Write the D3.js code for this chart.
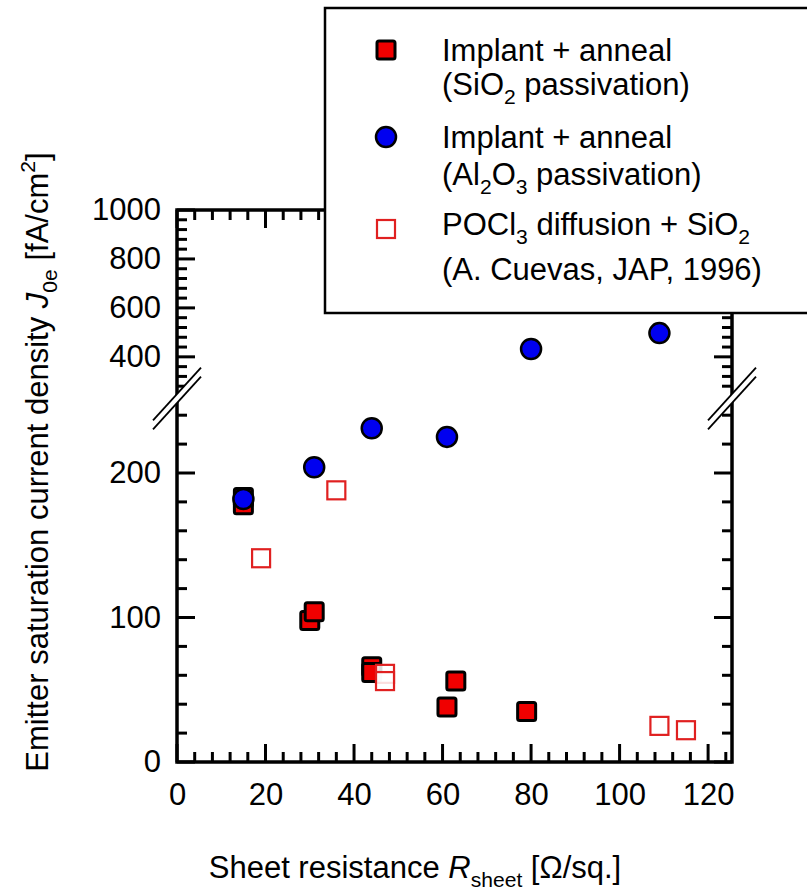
<!DOCTYPE html>
<html>
<head>
<meta charset="utf-8">
<script src="https://cdn.jsdelivr.net/npm/d3@7"></script>
<style>
  body { margin: 0; background: #fff; }
  svg text { font-family: "Liberation Sans", Arial, sans-serif; fill: #000; }
</style>
</head>
<body>
<div id="chart"></div>
<script>
// data (x = sheet resistance, y = J0e)
const sio2X = [15, 15, 30, 31, 44, 44, 63, 61, 79];
const sio2Y = [183, 178, 98, 104, 66, 62, 56, 38, 35];
const al2o3X = [15, 31, 44, 61, 80, 109];
const al2o3Y = [182, 204, 231, 225, 432, 497];
const poclX = [19, 36, 47, 47, 109, 115];
const poclY = [141, 188, 61, 56, 25, 22];

const xMajor = [0, 20, 40, 60, 80, 100, 120];
const yLowMajor = [0, 100, 200];
const yHighMajor = [400, 600, 800, 1000];

const legendItems = [
  { kind: "filled", l1: "Implant + anneal", l2: [["(SiO", ""], ["2", "sub"], [" passivation)", ""]] },
  { kind: "circle", l1: "Implant + anneal", l2: [["(Al", ""], ["2", "sub"], ["O", ""], ["3", "sub"], [" passivation)", ""]] },
  { kind: "open", l1: [["POCl", ""], ["3", "sub"], [" diffusion + SiO", ""], ["2", "sub"]], l2: "(A. Cuevas, JAP, 1996)" }
];

const W = 807, H = 890;
const pLeft = 177, pRight = 732, pTop = 210, pBottom = 762, breakY = 398;
const fs = 31, majLen = 18, minLen = 10;

const svg = d3.select("#chart").append("svg").attr("width", W).attr("height", H);

const x = d3.scaleLinear().domain([0, 125.4]).range([pLeft, pRight]);
const yLow = d3.scaleLinear().domain([0, 250]).range([pBottom, pBottom - 250 * 1.445]);
const yHigh = d3.scaleLinear().domain([240, 1000]).range([396, pTop]);
const yPos = v => v > 250 ? yHigh(v) : yLow(v);

// tick marks, all pointing into the plot
const xMinor = d3.range(0, 125, 4);
const yLowMinor = d3.range(0, 260, 20).filter(v => yLow(v) > breakY + 4);
const yHighMinor = d3.range(280, 1001, 40);

const tickSpecs = [];
xMinor.forEach(v => {
  const len = xMajor.includes(v) ? majLen : minLen;
  tickSpecs.push([x(v), pBottom, x(v), pBottom - len]);
  tickSpecs.push([x(v), pTop, x(v), pTop + len]);
});
[[yLowMinor, yLowMajor, yLow], [yHighMinor, yHighMajor, yHigh]].forEach(([minor, major, sc]) => {
  d3.union(minor, major).forEach(v => {
    const len = major.includes(v) ? majLen : minLen;
    tickSpecs.push([pLeft, sc(v), pLeft + len, sc(v)]);
    tickSpecs.push([pRight, sc(v), pRight - len, sc(v)]);
  });
});
svg.append("g").selectAll("line").data(tickSpecs).join("line")
  .attr("x1", d => d[0]).attr("y1", d => d[1]).attr("x2", d => d[2]).attr("y2", d => d[3])
  .attr("stroke", "#000").attr("stroke-width", 3);

// tick labels through d3 axes (lines hidden, drawn above)
function labelAxis(g) {
  g.select(".domain").remove();
  g.selectAll(".tick line").remove();
  g.selectAll(".tick text").attr("font-size", fs).attr("fill", "#000")
    .attr("font-family", "Liberation Sans, Arial, sans-serif");
}
svg.append("g").attr("transform", `translate(0,${pBottom})`)
  .call(d3.axisBottom(x).tickValues(xMajor).tickSizeInner(0).tickPadding(21)).call(labelAxis);
svg.append("g").attr("transform", `translate(${pLeft},0)`)
  .call(d3.axisLeft(yLow).tickValues(yLowMajor).tickSizeInner(0).tickPadding(16).tickFormat(d3.format("d"))).call(labelAxis);
svg.append("g").attr("transform", `translate(${pLeft},0)`)
  .call(d3.axisLeft(yHigh).tickValues(yHighMajor).tickSizeInner(0).tickPadding(16).tickFormat(d3.format("d"))).call(labelAxis);

// frame
svg.append("rect").attr("x", pLeft).attr("y", pTop).attr("width", pRight - pLeft).attr("height", pBottom - pTop)
  .attr("fill", "none").attr("stroke", "#000").attr("stroke-width", 3.5);

// break marks
[pLeft, pRight].forEach(px => {
  const dx = 24, k = 1.1, gap = 9;
  svg.append("polygon")
    .attr("points", [[px - dx, breakY - 4 + dx * k], [px + dx, breakY - 4 - dx * k],
                     [px + dx, breakY + gap - 4 - dx * k], [px - dx, breakY + gap - 4 + dx * k]].join(" "))
    .attr("fill", "#fff");
  [0, gap].forEach(o => {
    svg.append("line")
      .attr("x1", px - dx).attr("y1", breakY - 4 + o + dx * k)
      .attr("x2", px + dx).attr("y2", breakY - 4 + o - dx * k)
      .attr("stroke", "#000").attr("stroke-width", 1.8);
  });
});

// data
const sq = 18;
svg.append("g").selectAll("rect")
  .data(d3.zip(sio2X, sio2Y)).join("rect")
  .attr("x", d => x(d[0]) - sq / 2).attr("y", d => yPos(d[1]) - sq / 2)
  .attr("width", sq).attr("height", sq).attr("rx", 2)
  .attr("fill", "#f00000").attr("stroke", "#000").attr("stroke-width", 3);

svg.append("g").selectAll("circle")
  .data(d3.zip(al2o3X, al2o3Y)).join("circle")
  .attr("cx", d => x(d[0])).attr("cy", d => yPos(d[1])).attr("r", 10)
  .attr("fill", "#0000f0").attr("stroke", "#000").attr("stroke-width", 2.5);

svg.append("g").selectAll("rect")
  .data(d3.zip(poclX, poclY)).join("rect")
  .attr("x", d => x(d[0]) - sq / 2).attr("y", d => yPos(d[1]) - sq / 2)
  .attr("width", sq).attr("height", sq)
  .attr("fill", "#fff").attr("fill-opacity", 0.85).attr("stroke", "#e02020").attr("stroke-width", 2.2);

// legend
const lg = svg.append("g");
lg.append("rect").attr("x", 325).attr("y", 8).attr("width", 500).attr("height", 305)
  .attr("fill", "#fff").attr("stroke", "#000").attr("stroke-width", 2.5);

function addText(g, tx, ty, parts) {
  const t = g.append("text").attr("x", tx).attr("y", ty).attr("font-size", fs);
  if (typeof parts === "string") { t.text(parts); return t; }
  let shift = 0;
  parts.forEach(([s, k]) => {
    const sp = t.append("tspan").text(s);
    if (k === "sub") { sp.attr("font-size", fs * 0.68).attr("dy", 9 - shift); shift = 9; }
    else { if (shift) sp.attr("dy", -shift); shift = 0; }
  });
  return t;
}

const rowY = [50, 137, 229];
const lineY = [[61, 95], [148, 185], [235, 280]];
legendItems.forEach((it, i) => {
  const cx = 386, cy = rowY[i];
  if (it.kind === "filled") {
    lg.append("rect").attr("x", cx - 9).attr("y", cy - 9).attr("width", 18).attr("height", 18).attr("rx", 2)
      .attr("fill", "#f00000").attr("stroke", "#000").attr("stroke-width", 3);
  } else if (it.kind === "circle") {
    lg.append("circle").attr("cx", cx).attr("cy", cy).attr("r", 10)
      .attr("fill", "#0000f0").attr("stroke", "#000").attr("stroke-width", 2.5);
  } else {
    lg.append("rect").attr("x", cx - 9).attr("y", cy - 9).attr("width", 18).attr("height", 18)
      .attr("fill", "none").attr("stroke", "#e02020").attr("stroke-width", 2.2);
  }
  addText(lg, 442, lineY[i][0], it.l1);
  addText(lg, 442, lineY[i][1], it.l2);
});

// axis titles
const xt = svg.append("text").attr("x", 415).attr("y", 878).attr("text-anchor", "middle").attr("font-size", fs);
xt.append("tspan").text("Sheet resistance ");
xt.append("tspan").attr("font-style", "italic").text("R");
xt.append("tspan").attr("font-size", fs * 0.68).attr("dy", 9).text("sheet");
xt.append("tspan").attr("dy", -9).text(" [\u03A9/sq.]");

const yt = svg.append("text").attr("transform", "translate(48,462) rotate(-90)")
  .attr("text-anchor", "middle").attr("font-size", fs);
yt.append("tspan").text("Emitter saturation current density ");
yt.append("tspan").attr("font-style", "italic").text("J");
yt.append("tspan").attr("font-size", fs * 0.68).attr("dy", 9).text("0e");
yt.append("tspan").attr("dy", -9).text(" [fA/cm");
yt.append("tspan").attr("font-size", fs * 0.68).attr("dy", -13).text("2");
yt.append("tspan").attr("dy", 13).text("]");
</script>
</body>
</html>
